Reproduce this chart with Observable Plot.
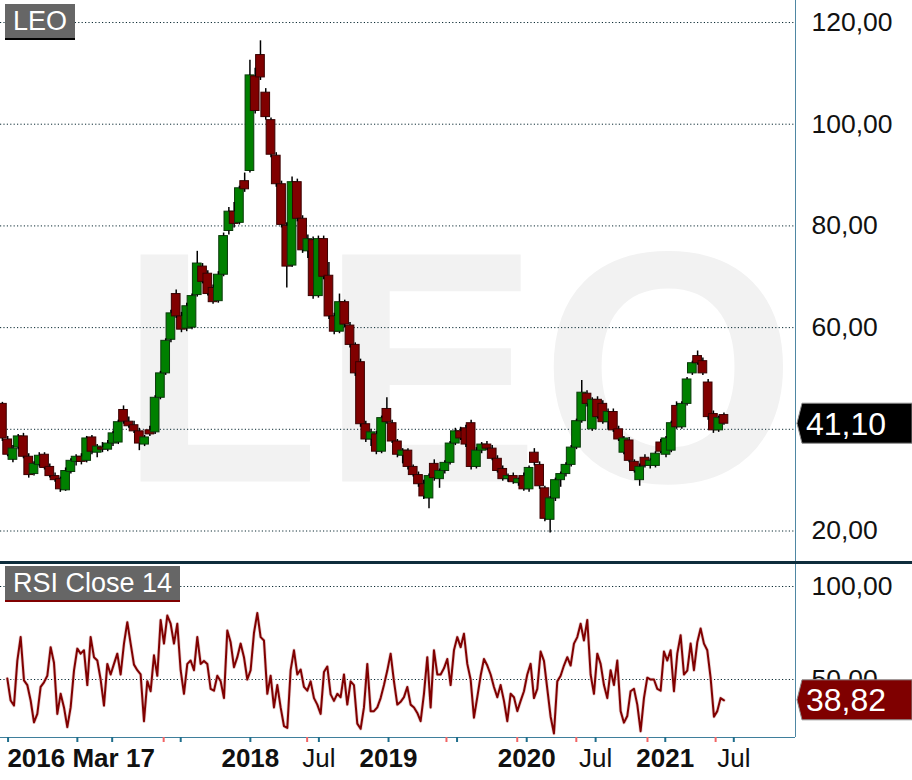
<!DOCTYPE html>
<html><head><meta charset="utf-8">
<script src="https://cdn.jsdelivr.net/npm/d3@7"></script>
<script src="https://cdn.jsdelivr.net/npm/@observablehq/plot@0.6"></script>
<style>
body{margin:0;background:#fff;font-family:"Liberation Sans",Arial,sans-serif;}
#wrap{position:relative;width:912px;height:780px;overflow:hidden;background:#fff}
#price,#rsi{position:absolute;left:0}
#price{top:0}
#rsi{top:563px}
.sep{position:absolute;left:0;top:561px;width:912px;height:2.5px;background:#0e2d3c}
.tag{position:absolute;background:#666;color:#fff;font-size:27px;line-height:34px;height:34px;padding:0 8px 0 8px;white-space:nowrap}
#ov{position:absolute;left:0;top:0;pointer-events:none}
</style></head>
<body><div id="wrap">
<div id="price"></div>
<div id="rsi"></div>
<div class="sep"></div>
<div class="tag" id="tagPrice" style="left:5px;top:4px;border-bottom:2px solid #000"></div>
<div class="tag" id="tagRsi" style="left:5px;top:566px;border-bottom:2px solid #800000"></div>
<svg id="ov" width="912" height="780"></svg>
</div>
<script>
// ---------- data ----------
const symbol = "LEO";
const rsiTitle = "RSI Close 14";
const lastClose = 41.10;
const lastRsi = 38.82;
const barStart = "2016-03-17", barEnd = "2021-06-05";   // bi-weekly candles
const opens = [
45.0,38.0,34.0,36.4,38.6,34.6,31.2,33.0,35.0,32.6,
30.8,30.2,28.0,31.6,33.6,34.6,33.8,38.4,35.4,36.4,
36.0,37.2,37.4,43.8,41.5,40.8,39.6,37.0,39.8,39.4,
46.2,51.0,57.6,66.6,62.2,59.8,60.0,66.4,72.0,70.6,
67.8,65.2,70.4,79.0,82.8,80.6,88.8,90.8,109.4,113.6,
106.2,100.8,93.8,88.2,80.0,72.2,88.6,81.4,75.0,77.2,
66.2,77.4,70.2,62.2,59.2,65.0,60.4,56.6,53.2,41.0,
38.0,39.0,35.6,44.0,41.2,37.6,34.8,35.8,32.6,31.0,
29.2,26.4,33.2,30.2,31.8,33.4,37.2,39.6,40.2,41.2,
32.6,35.8,37.0,36.2,34.2,32.2,30.2,30.8,29.4,30.8,
28.2,35.4,33.0,28.4,22.2,26.4,30.0,31.2,33.0,36.4,
41.6,47.0,40.0,45.8,45.0,41.4,43.4,40.0,35.4,37.8,
33.6,30.0,34.4,32.8,32.8,37.4,35.0,35.8,44.6,40.4,
45.0,51.0,54.4,53.4,49.2,43.0,39.8,42.8];
const highs = [
45.3,38.6,36.8,39.0,39.2,35.2,33.6,35.4,35.4,33.2,
31.4,30.6,32.4,34.2,35.0,35.2,38.6,38.8,37.0,37.4,
37.8,39.6,41.8,44.6,42.4,41.6,40.2,38.8,40.6,46.6,
51.4,57.8,63.4,67.4,63.0,64.8,66.6,75.0,72.6,71.2,
68.4,71.0,78.6,83.6,84.6,87.8,90.4,112.6,111.0,116.4,
107.0,101.2,94.4,88.8,80.6,89.6,89.2,82.0,78.2,77.8,
78.0,78.0,72.8,62.8,66.6,65.4,61.0,57.0,53.8,41.6,
40.0,39.6,42.6,46.2,41.8,38.0,36.2,36.2,33.0,31.6,
30.0,31.2,34.0,32.2,33.8,37.6,40.2,40.4,40.8,41.8,
36.4,37.4,37.6,36.8,34.8,32.8,31.2,31.4,30.4,31.4,
32.8,36.2,33.6,28.8,26.8,30.4,31.6,33.4,36.8,42.0,
49.6,47.6,46.2,46.4,45.6,44.0,44.0,40.6,38.6,38.4,
34.0,33.2,35.0,34.2,35.6,38.0,38.6,41.6,45.4,45.4,
50.2,53.4,55.4,54.0,49.8,43.6,42.6,43.2];
const lows = [
37.6,34.6,33.4,36.0,34.2,30.4,30.8,32.6,32.0,30.4,
29.6,27.6,27.8,31.2,32.8,33.0,33.4,35.0,34.4,35.4,
35.6,36.6,37.0,41.0,40.2,39.2,35.8,36.6,38.6,39.0,
45.8,50.6,57.0,61.8,59.0,59.2,59.6,66.0,68.6,66.2,
64.6,64.8,70.0,78.2,79.6,80.2,86.6,90.4,102.0,108.6,
100.8,93.4,87.6,79.6,67.8,71.8,80.8,74.6,73.6,65.6,
65.8,69.4,61.6,58.6,58.8,60.0,56.0,50.4,40.4,37.4,
36.6,35.0,35.2,41.0,37.2,34.4,33.2,32.0,30.6,28.6,
26.2,24.4,29.8,28.4,31.2,33.0,36.8,37.8,36.4,32.0,
32.2,35.2,35.8,33.8,31.4,29.8,29.6,29.2,28.8,27.8,
27.6,32.8,28.2,21.8,19.6,25.8,28.6,30.6,32.6,36.0,
41.2,44.4,39.6,42.0,41.0,39.8,39.4,37.6,35.0,33.4,
31.4,28.8,32.4,32.2,32.4,35.2,34.4,35.4,40.0,40.0,
44.6,50.6,52.6,50.6,41.8,39.2,39.4,40.8];
const closes = [
38.2,35.0,36.2,38.6,34.6,31.0,33.2,34.8,32.4,30.8,
30.0,28.2,31.8,33.8,34.6,33.6,38.2,35.6,36.6,36.0,
37.2,39.2,41.4,41.5,40.6,39.6,37.2,38.4,39.0,46.2,
51.0,57.4,62.8,62.2,59.6,64.2,66.2,72.6,69.0,66.6,
65.0,70.4,78.0,82.8,80.4,87.4,87.2,109.6,102.6,109.2,
101.4,94.0,88.2,80.2,72.0,88.6,81.4,75.2,77.4,66.2,
77.4,70.0,62.2,59.2,65.0,60.6,56.6,51.0,41.0,38.0,
39.4,35.6,42.2,41.4,37.6,35.0,35.8,32.6,31.0,29.2,
26.8,30.8,30.4,31.8,33.4,37.2,39.6,38.2,37.0,32.6,
35.8,37.0,36.2,34.2,31.8,30.2,30.8,29.6,30.2,28.2,
32.4,33.4,28.8,22.4,26.4,30.0,31.2,33.0,36.4,41.6,
47.2,45.0,45.8,42.4,41.4,43.4,39.8,38.0,38.2,33.8,
31.8,32.6,32.8,33.8,35.2,35.6,38.2,41.2,40.4,45.0,
49.8,53.0,53.0,51.0,42.4,39.8,42.2,41.1];

const rsiStart = "2016-03-30", rsiEnd = "2021-06-05";
const rsiValues = [
50.5,38.7,36,60,72.8,49.5,47,38.7,27,31.5,
46,48.5,52,67.4,59,31.5,42.3,35,24.4,35,
54.8,66.6,63.9,65.7,47,72.8,62,60.2,50,36,
58.4,52.7,58.4,63.9,52.7,69.3,80.8,69.3,58,55,
52.7,27.6,49.1,43.7,63,52,82,69.3,84.4,80,
69.3,80,55,42.3,58.4,60.2,55,72.8,58.4,60,
58.4,45,44,52,49.1,40,76.3,70,56.6,62,
69.3,62,50,55,75,85.7,72.8,71,42.3,52,
35,47,35,25,24,55,65.7,52.7,55.4,
46,44,49,40,36.5,31.5,54,57,42,38.5,
42.3,40.5,52.7,36.5,49,47,26.3,23.5,35,58.4,
33,33,35,40,47,54.8,63.9,49,36.5,38,
40.5,46,36.5,35,32,27.6,42.3,62,35,65.7,
52.7,52.7,56,61,47,65.7,72.8,67.4,74.6,58.4,
50,29.5,40.5,52,61,57.5,52.7,46,40.5,47,
38.5,27.6,42.3,40.5,33,38.5,43.7,52.7,58.4,40,
45,65,60,45,30,21,49,52,57.5,62,
57.5,69.3,72.8,80,71,82,52.7,42.3,63.9,58.4,
47,40,55,47,60.2,33,26.8,30.4,43.7,45,
36.5,22.2,40,51,50,50,45,44,65,60.2,
65.7,43.7,63.9,73.8,52.7,54.8,69.3,55,70,77.4,
69.3,65.7,50.9,30,33,40,38.82];

const priceGrid = [20, 40, 60, 80, 100, 120];
const priceLabels = [20, 60, 80, 100, 120];   // 40,00 sits under the last-price tag
const rsiTicks = [50, 100];
const timeTicks = ["2016-04-01","2016-10-01","2017-01-01","2017-07-01","2018-01-01","2018-07-01",
  "2019-01-01","2019-07-01","2020-01-01","2020-07-01","2021-01-01","2021-07-01"];
const eventTicks = ["2017-05-17","2018-05-31","2019-06-03","2019-12-07","2020-05-11","2020-11-15","2021-05-14"];
const startLabel = "2016 Mar 17";
const yearLabels = [["2018-01-01","2018"],["2019-01-01","2019"],["2020-01-01","2020"],["2021-01-01","2021"]];
const monthLabels = [["2018-07-01","Jul"],["2020-07-01","Jul"],["2021-07-01","Jul"]];

// ---------- build ----------
const day = 864e5;
const xDomain = [new Date("2016-03-12"), new Date("2021-12-11")];
const t0 = +new Date(barStart), t1 = +new Date(barEnd);
const bStep = (t1 - t0) / (closes.length - 1);
const bars = closes.map((c, i) => ({
  date: new Date(t0 + i * bStep), open: opens[i], high: highs[i], low: lows[i], close: c
}));
const r0 = +new Date(rsiStart), r1 = +new Date(rsiEnd);
const rStep = (r1 - r0) / (rsiValues.length - 1);
const rsi = rsiValues.map((v, i) => ({date: new Date(r0 + i * rStep), value: v}));
const hw = 11.5 * day;
const fmt = v => v.toFixed(2).replace(".", ",");
const up = d => d.close >= d.open;
const font = "'Liberation Sans', Arial, sans-serif";
const gridStyle = {stroke: "#0b2a33", strokeOpacity: 1, strokeDasharray: "1.2,2.2"};
const borderColor = "#4f87a3";

const priceY = [13.61, 124.33];
const pricePlot = Plot.plot({
  width: 912, height: 563, marginLeft: 0, marginRight: 117, marginTop: 0, marginBottom: 0,
  x: {type: "utc", domain: xDomain, axis: null},
  y: {domain: priceY},
  color: {type: "identity"},
  style: {fontFamily: font, fontSize: "26.5px", color: "#111", background: "transparent", overflow: "visible"},
  marks: [
    Plot.text([symbol], {text: d => d, frameAnchor: "bottom-left", dx: 118, dy: -82, fontSize: 330,
      fontWeight: "bold", fill: "#f2f2f2", textAnchor: "start", lineAnchor: "bottom"}),
    Plot.gridY({ticks: priceGrid, ...gridStyle}),
    Plot.rect(bars, {
      x1: d => new Date(+d.date - hw), x2: d => new Date(+d.date + hw),
      y1: "open", y2: "close",
      fill: d => up(d) ? "#008000" : "#800000",
      stroke: d => up(d) ? "#0a3a0a" : "#3a0000", strokeWidth: 1
    }),
    Plot.ruleX(bars, {x: "date", y1: d => Math.max(d.open, d.close), y2: "high", stroke: "#000", strokeWidth: 1.5}),
    Plot.ruleX(bars, {x: "date", y1: "low", y2: d => Math.min(d.open, d.close), stroke: "#000", strokeWidth: 1.5}),
    Plot.ruleX([xDomain[1]], {stroke: borderColor, strokeWidth: 1}),
    Plot.axisY({ticks: priceLabels, anchor: "right", tickSize: 0, tickPadding: 16, tickFormat: fmt,
      fontSize: 26.5, fill: "#111", label: null})
  ]
});
document.getElementById("price").append(pricePlot);

const rsiY = [18.82, 112.37];
const rsiPlot = Plot.plot({
  width: 912, height: 217, marginLeft: 0, marginRight: 117, marginTop: 0, marginBottom: 43,
  x: {type: "utc", domain: xDomain},
  y: {domain: rsiY},
  style: {fontFamily: font, fontSize: "26.5px", color: "#111", background: "transparent", overflow: "visible"},
  marks: [
    Plot.gridY({ticks: rsiTicks, ...gridStyle}),
    Plot.line(rsi, {x: "date", y: "value", stroke: "#e8d0d0", strokeWidth: 3.5}),
    Plot.line(rsi, {x: "date", y: "value", stroke: "#800000", strokeWidth: 2}),
    Plot.axisY({ticks: rsiTicks, anchor: "right", tickSize: 0, tickPadding: 16, tickFormat: fmt,
      fontSize: 26.5, fill: "#111", label: null}),
    Plot.ruleX([xDomain[1]], {stroke: borderColor, strokeWidth: 1}),
    Plot.ruleY([rsiY[0]], {stroke: "#3f7f9c", strokeWidth: 1.2}),
    Plot.axisX({ticks: timeTicks.map(d => new Date(d)), tickSize: 5, tickFormat: () => "",
      stroke: "#1f6e8c", strokeWidth: 2, label: null}),
    Plot.axisX({ticks: eventTicks.map(d => new Date(d)), tickSize: 5, tickFormat: () => "",
      stroke: "#f26464", strokeWidth: 2, label: null}),
    Plot.text([startLabel], {x: [new Date(barStart)], text: d => d, frameAnchor: "bottom", dy: 29, dx: 5,
      textAnchor: "start", lineAnchor: "bottom", fontSize: 26, fontWeight: "bold", fill: "#111"}),
    Plot.text(yearLabels, {x: d => new Date(d[0]), text: d => d[1], frameAnchor: "bottom", dy: 29,
      lineAnchor: "bottom", fontSize: 26, fontWeight: "bold", fill: "#111"}),
    Plot.text(monthLabels, {x: d => new Date(d[0]), text: d => d[1], frameAnchor: "bottom", dy: 29,
      lineAnchor: "bottom", fontSize: 26, fill: "#111"})
  ]
});
document.getElementById("rsi").append(rsiPlot);

document.getElementById("tagPrice").textContent = symbol;
document.getElementById("tagRsi").textContent = rsiTitle;

// value tags at right edge, placed by the scales
const ov = d3.select("#ov");
function valueTag(y, fill, text) {
  const g = ov.append("g");
  g.append("polygon")
    .attr("points", `797,${y} 802,${y - 20} 912,${y - 20} 912,${y + 20} 802,${y + 20}`)
    .attr("fill", fill).attr("stroke", "#8a8a8a").attr("stroke-width", 1);
  g.append("text").attr("x", 806).attr("y", y + 11.5).attr("fill", "#fff")
    .attr("font-family", font).attr("font-size", 32).text(text);
}
valueTag(pricePlot.scale("y").apply(lastClose), "#000", fmt(lastClose));
valueTag(563 + rsiPlot.scale("y").apply(lastRsi), "#7f0000", fmt(lastRsi));
</script>
</body></html>
